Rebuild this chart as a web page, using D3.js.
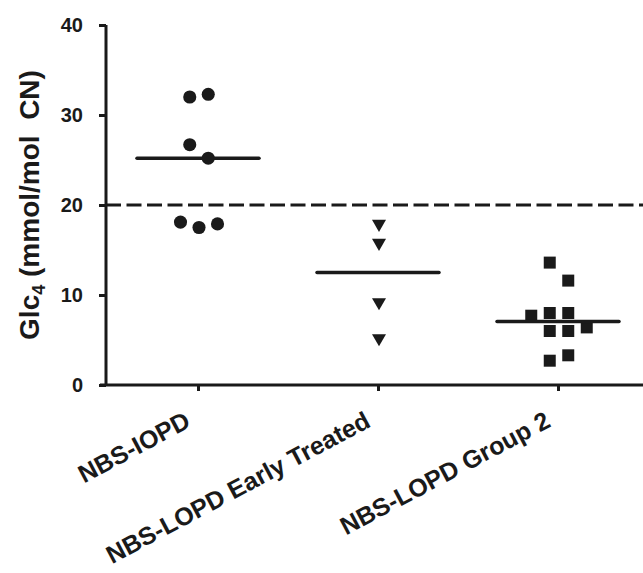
<!DOCTYPE html>
<html>
<head>
<meta charset="utf-8">
<script src="https://cdn.jsdelivr.net/npm/d3@7"></script>
<style>
  html, body { margin: 0; padding: 0; background: #fff; }
  svg { display: block; font-family: "Liberation Sans", Arial, sans-serif; font-weight: bold; }
</style>
</head>
<body>
<div id="container"></div>
<script>
// groups and values
const groups = ['NBS-IOPD', 'NBS-LOPD Early Treated', 'NBS-LOPD Group 2'];
const iopd = [32.0, 32.3, 26.7, 25.2, 18.1, 17.5, 17.9];
const iopdCol = [-0.5, 0.5, -0.5, 0.5, -1, 0, 1];
const earlyTreated = [17.9, 15.8, 9.2, 5.2];
const earlyCol = [0, 0, 0, 0];
const group2 = [13.6, 11.6, 7.7, 8.0, 8.0, 6.0, 6.0, 6.4, 3.3, 2.7];
const group2Col = [-0.5, 0.5, -1.5, -0.5, 0.5, -0.5, 0.5, 1.5, 0.5, -0.5];
const cutoff = 20;
const yTicks = [0, 10, 20, 30, 40];

const width = 643, height = 573;
const colStep = 18.5;

const svg = d3.select('#container')
    .append('svg')
    .attr('width', width)
    .attr('height', height);

const x = d3.scalePoint()
    .domain(groups)
    .range([108, 648])
    .padding(0.5);

const y = d3.scaleLinear()
    .domain([0, 40])
    .range([385, 25]);

const series = [
    { name: groups[0], values: iopd, cols: iopdCol, shape: d3.symbolCircle, size: 135, rotate: 0 },
    { name: groups[1], values: earlyTreated, cols: earlyCol, shape: d3.symbolTriangle, size: 85, rotate: 180 },
    { name: groups[2], values: group2, cols: group2Col, shape: d3.symbolSquare, size: 144, rotate: 0 }
];

// Y axis
const yAxis = svg.append('g')
    .attr('transform', 'translate(106,0)')
    .call(d3.axisLeft(y).tickValues(yTicks).tickSize(7).tickPadding(16));
yAxis.select('.domain').attr('d', 'M0,' + y(40) + 'V' + y(0));

// X axis
const xAxis = svg.append('g')
    .attr('transform', 'translate(0,' + y(0) + ')')
    .call(d3.axisBottom(x).tickSize(6).tickFormat(''));
xAxis.select('.domain').attr('d', 'M100,0H' + width);

svg.selectAll('.domain, .tick line')
    .attr('stroke', '#1a1a1a')
    .attr('stroke-width', 3);

yAxis.selectAll('text')
    .attr('font-size', 20)
    .attr('font-weight', 'bold')
    .attr('font-family', '"Liberation Sans", Arial, sans-serif')
    .attr('fill', '#1a1a1a');

// rotated category labels
svg.append('g')
    .selectAll('text')
    .data(groups)
    .join('text')
    .attr('transform', d => 'translate(' + (x(d) - 6) + ',' + (y(0) + 41) + ') rotate(-28)')
    .attr('text-anchor', 'end')
    .attr('font-size', 25)
    .attr('fill', '#1a1a1a')
    .text(d => d);

// y title
const title = svg.append('text')
    .attr('transform', 'translate(39,205) rotate(-90)')
    .attr('text-anchor', 'middle')
    .attr('font-size', 28)
    .attr('fill', '#1a1a1a')
    .style('white-space', 'pre');
title.append('tspan').text('Glc');
title.append('tspan').attr('font-size', 18).attr('dy', 6).text('4');
title.append('tspan').attr('dy', -6).text(' (mmol/mol  CN)');

// cutoff line
svg.append('line')
    .attr('x1', 106)
    .attr('x2', width)
    .attr('y1', y(cutoff))
    .attr('y2', y(cutoff))
    .attr('stroke', '#1a1a1a')
    .attr('stroke-width', 3)
    .attr('stroke-dasharray', '15,5.5');

// points
series.forEach(s => {
    svg.append('g')
        .selectAll('path')
        .data(s.values)
        .join('path')
        .attr('d', d3.symbol().type(s.shape).size(s.size))
        .attr('transform', (d, i) => 'translate(' + (x(s.name) + 1 + s.cols[i] * colStep) + ',' + y(d) + ') rotate(' + s.rotate + ')')
        .attr('fill', '#1a1a1a');

    const med = d3.median(s.values);
    svg.append('line')
        .attr('x1', x(s.name) - 61)
        .attr('x2', x(s.name) + 61)
        .attr('y1', y(med))
        .attr('y2', y(med))
        .attr('stroke', '#1a1a1a')
        .attr('stroke-width', 3.5)
        .attr('stroke-linecap', 'round');
});
</script>
</body>
</html>
